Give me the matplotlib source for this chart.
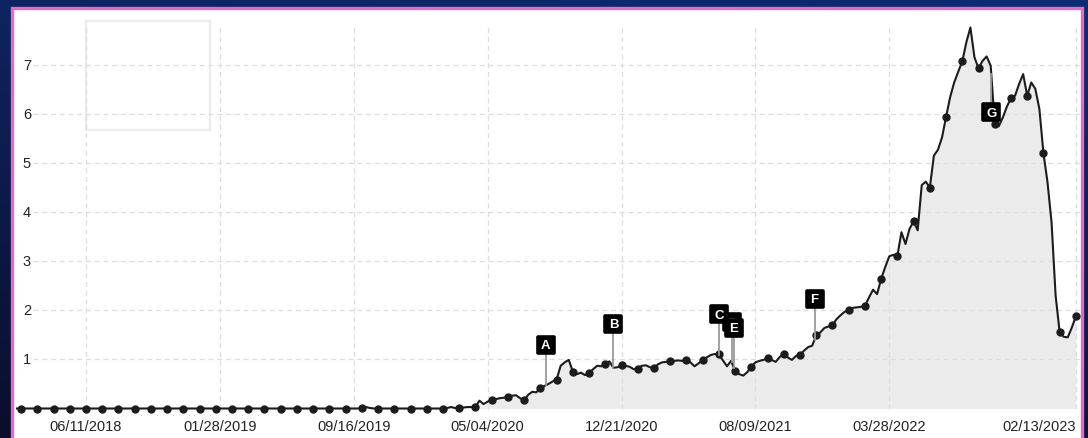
import numpy as np
import pandas as pd
import matplotlib.pyplot as plt
import matplotlib.dates as mdates
from matplotlib.patches import Rectangle
from matplotlib.markers import MarkerStyle

plt.rcParams['font.family'] = ['Liberation Sans', 'DejaVu Sans']

# weekly values, starting Monday 2018-02-12
start_date = '2018-02-12'
weekly_values = [
    0.00, 0.00, 0.00, 0.00, 0.00, 0.00, 0.00, 0.00, 0.00, 0.00,
    0.00, 0.00, 0.00, 0.00, 0.00, 0.00, 0.00, 0.00, 0.00, 0.00,
    0.00, 0.00, 0.00, 0.00, 0.00, 0.00, 0.00, 0.00, 0.00, 0.00,
    0.00, 0.00, 0.00, 0.00, 0.00, 0.00, 0.00, 0.00, 0.00, 0.00,
    0.00, 0.00, 0.00, 0.00, 0.00, 0.00, 0.00, 0.00, 0.00, 0.00,
    0.00, 0.00, 0.00, 0.00, 0.00, 0.00, 0.00, 0.00, 0.00, 0.00,
    0.00, 0.00, 0.00, 0.00, 0.00, 0.00, 0.00, 0.00, 0.00, 0.00,
    0.00, 0.00, 0.00, 0.00, 0.00, 0.00, 0.00, 0.00, 0.00, 0.00,
    0.00, 0.00, 0.00, 0.00, 0.00, 0.01, 0.03, 0.01, 0.00, 0.00,
    0.00, 0.00, 0.00, 0.00, 0.00, 0.00, 0.00, 0.00, 0.00, 0.00,
    0.00, 0.00, 0.00, 0.00, 0.00, 0.00, 0.01, 0.03, 0.01, 0.02,
    0.02, 0.03, 0.03, 0.04, 0.16, 0.09, 0.14, 0.18, 0.19, 0.21,
    0.22, 0.24, 0.26, 0.27, 0.21, 0.17, 0.28, 0.34, 0.33, 0.42,
    0.46, 0.50, 0.55, 0.59, 0.87, 0.94, 0.99, 0.75, 0.70, 0.73,
    0.68, 0.72, 0.80, 0.87, 0.86, 0.90, 0.96, 0.83, 0.84, 0.88,
    0.87, 0.85, 0.80, 0.81, 0.87, 0.88, 0.84, 0.82, 0.90, 0.94,
    0.95, 0.96, 0.97, 0.98, 0.97, 0.98, 0.94, 0.86, 0.92, 0.99,
    1.04, 1.09, 1.11, 1.10, 0.98, 0.86, 0.97, 0.77, 0.70, 0.67,
    0.74, 0.85, 0.94, 0.97, 0.99, 1.02, 0.99, 0.95, 1.05, 1.12,
    1.04, 0.99, 1.07, 1.09, 1.18, 1.25, 1.28, 1.49, 1.55, 1.64,
    1.67, 1.70, 1.82, 1.90, 1.97, 2.01, 2.05, 2.06, 2.07, 2.09,
    2.26, 2.42, 2.33, 2.64, 2.88, 3.10, 3.13, 3.11, 3.59, 3.35,
    3.66, 3.81, 3.63, 4.55, 4.62, 4.50, 5.15, 5.27, 5.52, 5.94,
    6.34, 6.64, 6.86, 7.07, 7.46, 7.76, 7.15, 6.93, 7.08, 7.17,
    6.98, 5.80, 5.75, 5.93, 6.15, 6.32, 6.37, 6.61, 6.81, 6.37,
    6.64, 6.51, 6.10, 5.20, 4.61, 3.79, 2.30, 1.55, 1.46, 1.45,
    1.65, 1.88,
]

tick_dates = ['2018-06-11', '2019-01-28', '2019-09-16', '2020-05-04',
              '2020-12-21', '2021-08-09', '2022-03-28', '2023-02-13']
y_ticks = [1, 2, 3, 4, 5, 6, 7]

flag_letters = ['A', 'B', 'C', 'D', 'E', 'F', 'G']
flag_dates = ['2020-08-12', '2020-12-07', '2021-06-08', '2021-06-29',
              '2021-07-03', '2021-11-19', '2022-09-20']
flag_levels = [1.30, 1.72, 1.92, 1.76, 1.64, 2.24, 6.03]
# drawing order of the flags (D sits behind C and E)
flag_layer = [1, 1, 2, 0, 3, 1, 1]

W, H = 1088, 439
fig = plt.figure(figsize=(W / 100, H / 100), dpi=100)

# navy background
bg = fig.add_axes([0, 0, 1, 1], zorder=-10)
yy = np.linspace(0, 1, 200)[:, None]
xx = np.linspace(0, 1, 400)[None, :]
t = np.clip(0.75 * yy + 0.25 * (1 - xx), 0, 1)
top = np.array([14, 44, 115]) / 255
bot = np.array([10, 14, 44]) / 255
img = top[None, None, :] * (1 - t[..., None]) + bot[None, None, :] * t[..., None]
bg.imshow(img, aspect='auto', extent=[0, 1, 0, 1])
bg.axis('off')

# white panel with pink frame
fig.patches.append(Rectangle((11.5, -10), 1070.5, 430.5 + 10, transform=None,
                             facecolor='white', edgecolor='#e26ac8', lw=2.4, zorder=-5))
# empty legend box
fig.patches.append(Rectangle((86, 308), 124, 109, transform=None,
                             facecolor='white', edgecolor='#ececec', lw=1.6, zorder=-4))

ax_left, ax_right, ax_top, ax_bot = 13, 1081, 26, 412
ax = fig.add_axes([ax_left / W, (H - ax_bot) / H, (ax_right - ax_left) / W, (ax_bot - ax_top) / H])
ax.patch.set_alpha(0)
for s in ax.spines.values():
    s.set_visible(False)
ax.set_xticks([])
ax.set_yticks([])

dates = pd.date_range(start_date, periods=len(weekly_values), freq='7D')
values = np.array(weekly_values)
x0 = pd.Timestamp(start_date)
ax.set_xlim(x0 - pd.Timedelta(days=6.9), x0 + pd.Timedelta(days=1835.8))
px_per_val = 49.1
zero_px = 409.5
ax.set_ylim(-(ax_bot - zero_px) / px_per_val, (zero_px - ax_top) / px_per_val)

grid_kw = dict(color='#dddddd', lw=0.9, ls=(0, (4, 3)), zorder=2)
for v in y_ticks:
    ax.axhline(v, xmin=(33 - ax_left) / (ax_right - ax_left), **grid_kw)
    ax.text((27 - ax_left) / (ax_right - ax_left), v, str(v), transform=ax.get_yaxis_transform(),
            ha='center', va='center', fontsize=10.5, color='#222222')
for i, d in enumerate(tick_dates):
    dt = pd.Timestamp(d)
    ax.axvline(dt, ymin=0.005, ymax=(ax_bot - 28) / (ax_bot - ax_top), **grid_kw)
    ax.text(dt, -(427 - ax_bot) / (ax_bot - ax_top), dt.strftime('%m/%d/%Y'),
            transform=ax.get_xaxis_transform(), ha='right' if i == len(tick_dates) - 1 else 'center',
            va='center', fontsize=10.5, color='#222222')

ax.fill_between(dates, values, 0, color='#ebebeb', lw=0, zorder=1)
ax.plot(dates, values, color='#1c1c1c', lw=1.5, zorder=3, solid_joinstyle='round')
ax.plot(dates[1::4], values[1::4], 'o', ms=5.0, color='#1c1c1c', zorder=4, clip_on=False)

# event flags
dnum = mdates.date2num(dates)
box_marker = MarkerStyle('s', joinstyle='round')
for letter, d, lvl, layer in zip(flag_letters, flag_dates, flag_levels, flag_layer):
    dt = pd.Timestamp(d)
    base = np.interp(mdates.date2num(dt), dnum, values)
    z = 5 + 3 * layer
    ax.plot([dt, dt], [base, lvl], color='#9a9a9a', lw=1.3, zorder=z)
    ax.plot(dt, lvl, marker=box_marker, ms=11.5, mew=2.6, color='black', zorder=z + 1)
    ax.annotate(letter, (dt, lvl), xytext=(0, -0.3), textcoords='offset points',
                ha='center', va='center', color='white', fontsize=9.5,
                fontweight='bold', zorder=z + 2)

fig.savefig('out.png', dpi=100)
